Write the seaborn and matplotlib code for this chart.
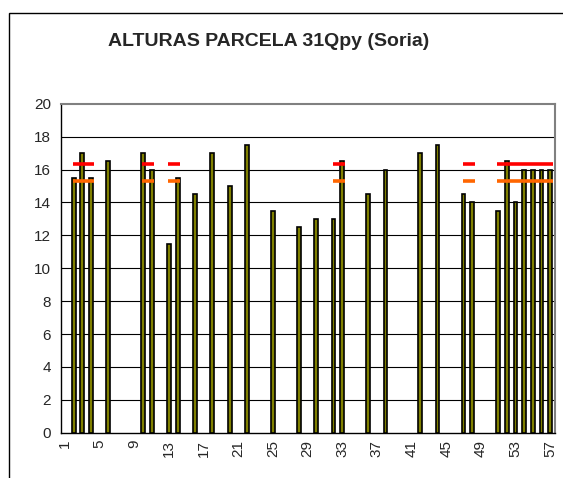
import numpy as np
import pandas as pd
import matplotlib
matplotlib.use('Agg')
import matplotlib.pyplot as plt
import matplotlib.patches as mpatches
import seaborn as sns

sns.set_style('white')
plt.rcParams['font.family'] = ['Liberation Sans', 'DejaVu Sans']

# tree number (1..57) and measured height (m); trees without a bar are missing
arbol = [2, 3, 4, 6, 10, 11, 13, 14, 16, 18, 20, 22, 25, 28, 30, 32, 33,
         36, 38, 42, 44, 47, 48, 51, 52, 53, 54, 55, 56, 57]
altura = [15.5, 17, 15.5, 16.5, 17, 16, 11.5, 15.5, 14.5, 17, 15, 17.5, 13.5, 12.5, 13, 13, 16.5,
          14.5, 16, 17, 17.5, 14.5, 14, 13.5, 16.5, 14, 16, 16, 16, 16]

# reference levels, drawn only over these trees
linea_arboles = [2, 3, 4, 10, 11, 13, 14, 32, 33, 47, 48, 51, 52, 53, 54, 55, 56, 57]
nivel_rojo = 16.33
nivel_naranja = 15.33

n_arboles = 57
xtick_vals = list(range(1, n_arboles + 1, 4))

df = pd.DataFrame({'arbol': arbol, 'altura': altura})

fig = plt.figure(figsize=(5.63, 4.78), dpi=100)
ax = fig.add_axes([60.7 / 563, 1 - 432.7 / 478, 493.8 / 563, 329 / 478])

sns.barplot(data=df, x='arbol', y='altura', native_scale=True, width=0.44,
            color='#808000', saturation=1, edgecolor='black', linewidth=1.2,
            errorbar=None, ax=ax, zorder=3)


# group consecutive trees into runs for the horizontal level segments
def runs(vals):
    out = []
    start = prev = vals[0]
    for v in vals[1:]:
        if v != prev + 1:
            out.append((start, prev))
            start = v
        prev = v
    out.append((start, prev))
    return out


for a, b in runs(linea_arboles):
    ax.hlines(nivel_rojo, a - 0.1, b + 0.3, color='#FF0000', linewidth=2.6, zorder=4)
    ax.hlines(nivel_naranja, a - 0.1, b + 0.3, color='#FF6600', linewidth=2.6, zorder=4)

ax.set_xlim(0.5, n_arboles + 0.5)
ax.set_ylim(0, 20)
ax.set_yticks(np.arange(0, 21, 2))
ax.set_xticks(xtick_vals)
ax.set_xticklabels([str(v) for v in xtick_vals], rotation=90)
ax.set_xticks(np.arange(0.5, n_arboles + 1, 1), minor=True)
ax.tick_params(axis='x', which='major', length=0, pad=5, labelsize=11)
ax.tick_params(axis='x', which='minor', length=3, width=0.8, direction='out', color='black')
ax.tick_params(axis='y', which='major', length=3, width=0.8, direction='out', pad=4,
               labelsize=11, color='black')
ax.set_xlabel('')
ax.set_ylabel('')

for yv in range(2, 20, 2):
    ax.axhline(yv, color='black', linewidth=0.8, zorder=1)

ax.spines['left'].set_color('black')
ax.spines['bottom'].set_color('black')
ax.spines['top'].set_color('#808080')
ax.spines['right'].set_color('#808080')
for s in ax.spines.values():
    s.set_linewidth(1.0)
ax.spines['top'].set_linewidth(1.5)
ax.spines['right'].set_linewidth(1.5)

fig.text(269 / 563, 1 - 42 / 478, 'ALTURAS PARCELA 31Qpy (Soria)', ha='center', va='center',
         fontsize=14, fontweight='bold')

# chart area border (cut off on the right and bottom)
border = mpatches.Rectangle((9 / 563, -0.05), 1.2, 1 - 13 / 478 + 0.05, transform=fig.transFigure,
                            fill=False, edgecolor='black', linewidth=1.0)
fig.patches.append(border)

fig.savefig('out.png', dpi=100)
